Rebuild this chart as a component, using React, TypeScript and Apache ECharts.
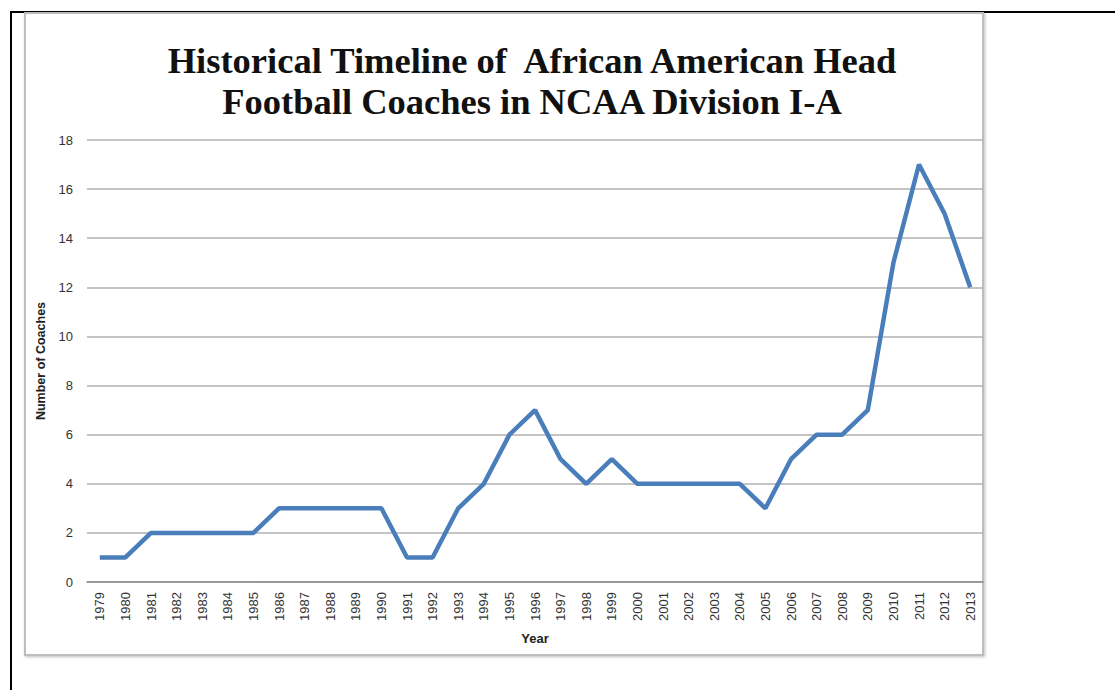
import React, { useEffect, useRef } from "react";
import * as echarts from "echarts";

const years: string[] = [
  "1979", "1980", "1981", "1982", "1983", "1984", "1985", "1986", "1987", "1988",
  "1989", "1990", "1991", "1992", "1993", "1994", "1995", "1996", "1997", "1998",
  "1999", "2000", "2001", "2002", "2003", "2004", "2005", "2006", "2007", "2008",
  "2009", "2010", "2011", "2012", "2013",
];
const coaches: number[] = [
  1, 1, 2, 2, 2, 2, 2, 3, 3, 3,
  3, 3, 1, 1, 3, 4, 6, 7, 5, 4,
  5, 4, 4, 4, 4, 4, 3, 5, 6, 6,
  7, 13, 17, 15, 12,
];
const titleText = "Historical Timeline of  African American Head\nFootball Coaches in NCAA Division I-A";
const yAxisName = "Number of Coaches";
const xAxisName = "Year";

export default function App() {
  const ref = useRef<HTMLDivElement>(null);
  useEffect(() => {
    document.body.style.margin = "0";
    if (!ref.current) return;
    const chart = echarts.init(ref.current, undefined, { renderer: "svg" });
    chart.setOption({
      animation: false,
      backgroundColor: "#ffffff",
      title: {
        text: titleText,
        left: 527,
        textAlign: "center",
        top: 35,
        textStyle: {
          fontFamily: "Liberation Serif",
          fontWeight: "bold",
          fontSize: 36.5,
          lineHeight: 41,
          color: "#111111",
        },
      },
      graphic: [
        { type: "line", shape: { x1: 10, y1: 12, x2: 1115, y2: 12 }, style: { stroke: "#000", lineWidth: 2 }, z: -10 },
        { type: "line", shape: { x1: 11, y1: 12, x2: 11, y2: 690 }, style: { stroke: "#000", lineWidth: 2 }, z: -10 },
        {
          type: "rect",
          shape: { x: 25, y: 13, width: 958, height: 642 },
          style: { fill: "#ffffff", stroke: "#bdbdbd", lineWidth: 2, shadowColor: "rgba(0,0,0,0.25)", shadowBlur: 3, shadowOffsetX: 1, shadowOffsetY: 1 },
          z: -5,
        },
      ],
      grid: { left: 87, right: 132, top: 140, bottom: 108 },
      xAxis: {
        type: "category",
        data: years,
        boundaryGap: true,
        name: xAxisName,
        nameLocation: "middle",
        nameGap: 50,
        nameTextStyle: { fontFamily: "Liberation Sans", fontWeight: "bold", fontSize: 13, color: "#222" },
        axisLine: { lineStyle: { color: "#8a8a8a", width: 1.5 } },
        axisTick: { show: false },
        axisLabel: { rotate: 90, interval: 0, margin: 10, fontFamily: "Liberation Sans", fontSize: 13, color: "#333" },
      },
      yAxis: {
        type: "value",
        min: 0,
        max: 18,
        interval: 2,
        name: yAxisName,
        nameLocation: "middle",
        nameGap: 37,
        nameTextStyle: { fontFamily: "Liberation Sans", fontWeight: "bold", fontSize: 12.5, color: "#222" },
        axisLine: { show: false },
        axisTick: { show: false },
        axisLabel: { margin: 14, fontFamily: "Liberation Sans", fontSize: 13, color: "#333" },
        splitLine: { lineStyle: { color: "#b0b0b0", width: 1.5 } },
      },
      series: [
        {
          type: "line",
          data: coaches,
          symbol: "none",
          lineStyle: { color: "#4a7ebb", width: 4.5 },
          itemStyle: { color: "#4a7ebb" },
        },
      ],
    });
    return () => chart.dispose();
  }, []);
  return <div ref={ref} style={{ width: 1115, height: 690 }} />;
}
